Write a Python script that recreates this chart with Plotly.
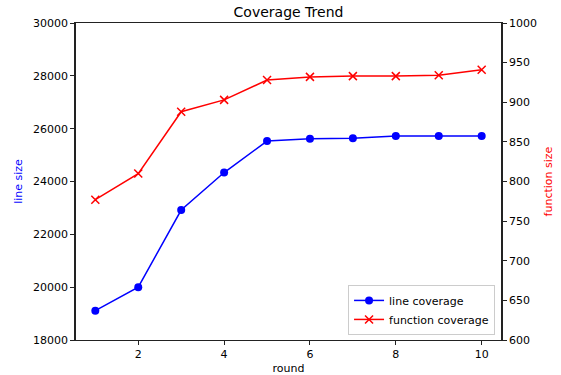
import plotly.graph_objects as go

rounds = [1, 2, 3, 4, 5, 6, 7, 8, 9, 10]
line_cov = [19110, 20000, 22920, 24340, 25530, 25620, 25640, 25720, 25720, 25720]
func_cov = [777, 810, 888, 903, 928, 932, 933, 933, 934, 941]

fig = go.Figure()
fig.add_trace(go.Scatter(x=rounds, y=line_cov, name="line coverage", mode="lines+markers",
                         line=dict(color="blue", width=1.5),
                         marker=dict(symbol="circle", size=8, color="blue"), yaxis="y"))
fig.add_trace(go.Scatter(x=rounds, y=func_cov, name="function coverage", mode="lines+markers",
                         line=dict(color="red", width=1.5),
                         marker=dict(symbol="x-thin", size=8, color="red",
                                     line=dict(color="red", width=1.5)), yaxis="y2"))

font = dict(family="DejaVu Sans", size=11, color="black")
fig.update_layout(
    width=561, height=375,
    margin=dict(l=76, r=60, t=23, b=35, autoexpand=False),
    paper_bgcolor="white", plot_bgcolor="white",
    font=font,
    title=dict(text="Coverage Trend", x=0.5, xanchor="center", xref="paper",
               y=1 - 12 / 375, yanchor="middle", yref="container",
               font=dict(family="DejaVu Sans", size=14, color="black")),
    xaxis=dict(range=[0.55, 10.45], tickvals=[2, 4, 6, 8, 10], showgrid=False, zeroline=False,
               showline=True, linecolor="#222", linewidth=1.2, mirror=True, automargin=False,
               ticks="outside", ticklen=4, tickcolor="#222",
               title=dict(text="round", standoff=4, font=dict(size=11))),
    yaxis=dict(range=[18000, 30000], tickvals=list(range(18000, 30001, 2000)), tickformat="d",
               showgrid=False, automargin=False,
               zeroline=False, showline=True, linecolor="#222", linewidth=1.5,
               ticks="outside", ticklen=4, tickcolor="#222",
               title=dict(text="line size", standoff=8, font=dict(size=11, color="blue"))),
    yaxis2=dict(range=[600, 1000], tickvals=list(range(600, 1001, 50)), showgrid=False,
                zeroline=False, showline=True, linecolor="#222", linewidth=1.5, automargin=False,
                overlaying="y", side="right",
                ticks="outside", ticklen=4, tickcolor="#222",
                title=dict(text="function size", standoff=8, font=dict(size=11, color="red"))),
    legend=dict(x=0.986, y=0.016, xanchor="right", yanchor="bottom",
                bgcolor="rgba(255,255,255,0.8)", bordercolor="#cccccc", borderwidth=1,
                font=dict(size=11), tracegroupgap=0, itemwidth=30),
    showlegend=True,
)
fig.write_html("out.html", config={"displayModeBar": False},
               post_script="document.body.style.margin='0';document.body.style.padding='0';")
